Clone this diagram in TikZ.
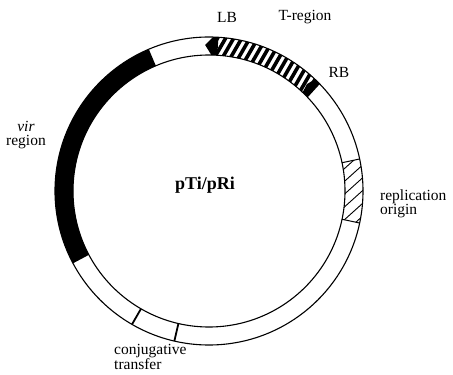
\documentclass[tikz,border=0pt]{standalone}
\usepackage{fontspec}
\setmainfont{Liberation Serif}
\begin{document}
\begin{tikzpicture}[x=1pt,y=1pt,
  lab/.style={font=\fontsize{15.5}{14.5}\selectfont, inner sep=0pt},
  ringline/.style={line width=1.1pt},
  segline/.style={line width=1pt},
  thickseg/.style={line width=1.8pt},
]
\useasboundingbox (-209,-184) rectangle (244,191);
% vir region (solid black)
\fill[black] (113:154) arc[start angle=113,end angle=208,radius=154]
  -- (208:136) arc[start angle=208,end angle=113,radius=136] -- cycle;
% T-region hatching
\begin{scope}
\clip (46.5:154) arc[start angle=46.5,end angle=87,radius=154]
  -- (87:136) arc[start angle=87,end angle=46.5,radius=136] -- cycle;
\foreach \c in {-90,-83,...,70}
  \draw[line width=3.6pt] ({0.866*\c+0.5*100},{-0.5*\c+0.866*100}) -- ({0.866*\c+0.5*170},{-0.5*\c+0.866*170});
\end{scope}
% replication origin hatching
\begin{scope}
\clip (-12:154) arc[start angle=-12,end angle=12,radius=154]
  -- (12:136) arc[start angle=12,end angle=-12,radius=136] -- cycle;
\foreach \c in {55,64.5,...,135}
  \draw[line width=0.9pt] ({0.669*\c+0.743*60},{-0.743*\c+0.669*60}) -- ({0.669*\c+0.743*150},{-0.743*\c+0.669*150});
\end{scope}
% LB and RB borders
\fill[black] (86.5:154) arc[start angle=86.5,end angle=88.5,radius=154]
  -- (91.5:146) -- (89:136) arc[start angle=89,end angle=86.5,radius=136] -- cycle;
\fill[black] (44:154) arc[start angle=44,end angle=46.5,radius=154]
  -- (47.5:145) -- (46.5:136) arc[start angle=46.5,end angle=43.5,radius=136] -- cycle;
% segment boundaries
\draw[segline] (12:136) -- (12:154);
\draw[segline] (-12:136) -- (-12:154);
\draw[thickseg] (240:136) -- (240:154);
\draw[thickseg] (257:136) -- (257:154);
% ring
\draw[ringline] (0,0) circle[radius=154];
\draw[ringline] (0,0) circle[radius=136];
% labels
\node[lab] (lb) at (18,174) {LB};
\node[lab] (treg) at (96,174) {T-region};
\node[lab] (rb) at (130,119) {RB};
\node[lab, align=left, anchor=west] (ori) at (171,-13) {replication\\origin};
\node[lab, align=center] (vir) at (-183,56) {\textit{vir}\\region};
\node[lab, align=left, anchor=west] (conj) at (-95,-166) {conjugative\\transfer};
\node[font=\fontsize{18}{18}\selectfont\bfseries, inner sep=0pt] (ptip) at (-4,6) {pTi/pRi};
\end{tikzpicture}
\end{document}
